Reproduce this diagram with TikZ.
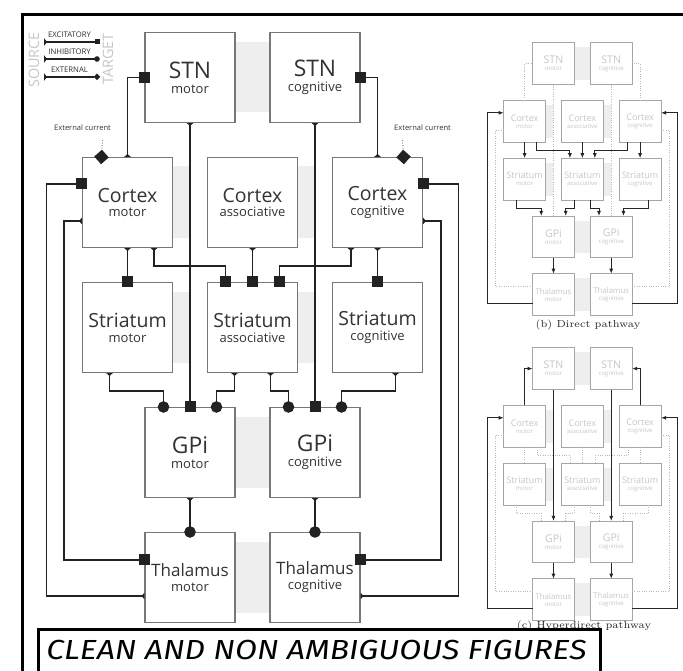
\documentclass[tikz,border=0pt]{standalone}
\usepackage{fontspec}
\setmainfont{Open Sans}
\newfontfamily\capfont{Latin Modern Roman}
\newfontfamily\comicfont{Fira Sans}
\usepackage{graphicx}
\usepackage{tikz}
\usetikzlibrary{arrows.meta,backgrounds,calc,positioning}

\definecolor{ink}{HTML}{222222}
\definecolor{edgegray}{HTML}{777777}
\definecolor{labelgray}{HTML}{333333}
\definecolor{bandgray}{HTML}{EEEEEE}

% two-line label of a box: name and part
\newcommand{\boxlabel}[3]{{\fontsize{#1}{#1}\selectfont #2}\\{\fontsize{7.4}{8}\selectfont #3}}

% the twelve boxes, with the grey bands between them
\newcommand{\gangliaboxes}[1]{%
  \fill[band] (235,42.5) rectangle (270,112.5);
  \fill[band] (172.5,166.5) rectangle (190,238);
  \fill[band] (297.5,166.5) rectangle (315,238);
  \fill[band] (172.5,292) rectangle (190,363.5);
  \fill[band] (297.5,292) rectangle (315,363.5);
  \fill[band] (235,417.5) rectangle (270,488);
  \fill[band] (235,542.5) rectangle (270,613);
  \node[box] (#1-stnm) at (190,77.5)    {\boxlabel{13}{STN}{motor}};
  \node[box] (#1-stnc) at (315,77.5)    {\boxlabel{13}{STN}{cognitive}};
  \node[box] (#1-ctxm) at (127.5,202.5) {\boxlabel{11.1}{Cortex}{motor}};
  \node[box] (#1-ctxa) at (252.5,202.5) {\boxlabel{11.1}{Cortex}{associative}};
  \node[box] (#1-ctxc) at (377.5,202.5) {\boxlabel{11.1}{Cortex}{cognitive}};
  \node[box] (#1-strm) at (127.5,327.5) {\boxlabel{11.1}{Striatum}{motor}};
  \node[box] (#1-stra) at (252.5,327.5) {\boxlabel{11.1}{Striatum}{associative}};
  \node[box] (#1-strc) at (377.5,327.5) {\boxlabel{11.1}{Striatum}{cognitive}};
  \node[box] (#1-gpim) at (190,452.5)   {\boxlabel{13}{GPi}{motor}};
  \node[box] (#1-gpic) at (315,452.5)   {\boxlabel{13}{GPi}{cognitive}};
  \node[box] (#1-thm)  at (190,577.5)   {\boxlabel{9.7}{Thalamus}{motor}};
  \node[box] (#1-thc)  at (315,577.5)   {\boxlabel{9.7}{Thalamus}{cognitive}};
}

% #2 cortex-stn, #3 stn-gpi, #4 cortex-striatum, #5 striatum-gpi,
% #6 gpi-thalamus, #7 thalamus-cortex, #8 cortex-thalamus
\newcommand{\ganglialinks}[8]{%
  \draw[#2] (#1-ctxm.north) |- (#1-stnm.west);
  \draw[#2] (#1-ctxc.north) |- (#1-stnc.east);
  \draw[#3] (#1-stnm.south) -- (#1-gpim.north);
  \draw[#3] (#1-stnc.south) -- (#1-gpic.north);
  \draw[#4] (#1-ctxm.south) -- (#1-strm.north);
  \draw[#4] ($(#1-ctxm.south)+(26.5,0)$) -- ++(0,18) -| ($(#1-stra.north)+(-27,0)$);
  \draw[#4] (#1-ctxa.south) -- (#1-stra.north);
  \draw[#4] ($(#1-ctxc.south)+(-26.5,0)$) -- ++(0,18) -| ($(#1-stra.north)+(27,0)$);
  \draw[#4] (#1-ctxc.south) -- (#1-strc.north);
  \draw[#5] ($(#1-strm.south)+(-18,0)$) -- ++(0,18) -| ($(#1-gpim.north)+(-26.5,0)$);
  \draw[#5] ($(#1-stra.south)+(-18,0)$) -- ++(0,18) -| ($(#1-gpim.north)+(26.5,0)$);
  \draw[#5] ($(#1-stra.south)+(18,0)$) -- ++(0,18) -| ($(#1-gpic.north)+(-26.5,0)$);
  \draw[#5] ($(#1-strc.south)+(18,0)$) -- ++(0,18) -| ($(#1-gpic.north)+(26.5,0)$);
  \draw[#6] (#1-gpim.south) -- (#1-thm.north);
  \draw[#6] (#1-gpic.south) -- (#1-thc.north);
  \draw[#7] ($(#1-thm.west)+(0,18.5)$) -- ++(-98,0) |- ($(#1-ctxm.west)+(0,-18.5)$);
  \draw[#7] ($(#1-thc.east)+(0,18.5)$) -- ++(98,0) |- ($(#1-ctxc.east)+(0,-18.5)$);
  \draw[#8] ($(#1-ctxm.west)+(0,18.5)$) -- ++(-18,0) |- ($(#1-thm.west)+(0,-17.5)$);
  \draw[#8] ($(#1-ctxc.east)+(0,18.5)$) -- ++(18,0) |- ($(#1-thc.east)+(0,-17.5)$);
}

\begin{document}
\begin{tikzpicture}[x=0.02cm, y=-0.02cm,
    box/.style={draw=edgegray, line width=0.6pt, fill=white, minimum size=1.8cm,
      inner sep=0pt, align=center, text=labelgray, font=\fontsize{7.4}{8.5}\selectfont},
    band/.style={fill=bandgray},
    link/.style={draw=ink, line width=0.85pt},
    exc/.style={link, {Triangle[reversed,length=0.06cm,width=0.13cm]}-{Square[length=0.22cm,width=0.22cm]}, shorten >=-0.11cm},
    inh/.style={link, {Triangle[reversed,length=0.06cm,width=0.13cm]}-{Circle[length=0.23cm]}, shorten >=-0.115cm},
    ext/.style={draw=black!55, line width=0.5pt, densely dotted, -{Turned Square[length=0.29cm,width=0.29cm,color=ink]}, shorten >=-0.145cm},
    lexc/.style={link, line width=0.6pt, {Triangle[reversed,length=0.06cm,width=0.15cm]}-{Square[length=0.1cm,width=0.1cm]}, shorten >=-0.05cm},
    linh/.style={link, line width=0.6pt, {Triangle[reversed,length=0.06cm,width=0.15cm]}-{Circle[length=0.11cm]}, shorten >=-0.055cm},
    lext/.style={link, line width=0.6pt, {Triangle[reversed,length=0.06cm,width=0.15cm]}-{Turned Square[length=0.13cm,width=0.13cm]}, shorten >=-0.065cm},
    on/.style={draw=black!85, line width=0.5pt, -{Latex[length=0.1cm,width=0.08cm]}},
    off/.style={draw=black!28, line width=0.35pt, densely dotted},
    legend/.style={font=\fontsize{4.4}{5}\selectfont, text=labelgray, inner sep=0pt},
    side/.style={rotate=90, font=\fontsize{8.2}{9}\selectfont, text=black!22, inner sep=0pt},
    caption/.style={font=\capfont\fontsize{5.8}{7}\selectfont, text=black!85, inner sep=0pt}]

  \path[use as bounding box, fill=white] (0,0) rectangle (683,671);
  \clip (0,0) rectangle (683,671);

  % panel frame
  \draw[line width=1.7pt] (22.5,700) |- (700,15);

  % main figure
  \gangliaboxes{fig}
  \ganglialinks{fig}{exc}{exc}{exc}{inh}{inh}{exc}{exc}

  % external currents
  \node[legend, font=\fontsize{4.3}{5}\selectfont] (curm) at (82.5,128) {External current};
  \node[legend, font=\fontsize{4.3}{5}\selectfont] (curc) at (422.5,128) {External current};
  \coordinate (curmin) at (102.5,140);
  \coordinate (curcin) at (402.5,140);
  \draw[ext] (curmin) -- ($(fig-ctxm.north west)+(19.5,0)$);
  \draw[ext] (curcin) -- ($(fig-ctxc.north east)+(-19.5,0)$);

  % legend
  \node[side] (source) at (34,60) {SOURCE};
  \node[side] (target) at (108,59) {TARGET};
  \coordinate (excfrom) at (44,42);  \coordinate (excto) at (97,42);
  \coordinate (inhfrom) at (44,59);  \coordinate (inhto) at (97,59);
  \coordinate (extfrom) at (44,77);  \coordinate (extto) at (97,77);
  \draw[lexc] (excfrom) -- (excto);
  \draw[linh] (inhfrom) -- (inhto);
  \draw[lext] (extfrom) -- (extto);
  \node[legend] (exclbl) at (69.5,34.5) {EXCITATORY};
  \node[legend] (inhlbl) at (69.5,52) {INHIBITORY};
  \node[legend] (extlbl) at (69.5,70) {EXTERNAL};

  % (b) direct pathway
  \begin{scope}[shift={(465.7,27.8)}, scale=0.462, transform shape,
      box/.append style={draw=black!35, text=black!22, line width=0.4pt}]
    \gangliaboxes{dir}
    \ganglialinks{dir}{off}{off}{on}{on}{on}{on}{off}
  \end{scope}
  \node[caption] (dircap) at (588,325) {(b) Direct pathway};

  % (c) hyperdirect pathway
  \begin{scope}[shift={(465.7,332.8)}, scale=0.462, transform shape,
      box/.append style={draw=black!35, text=black!22, line width=0.4pt}]
    \gangliaboxes{hyp}
    \ganglialinks{hyp}{on}{on}{off}{off}{on}{on}{off}
  \end{scope}
  \node[caption] (hypcap) at (584,626) {(c) Hyperdirect pathway};

  % comic caption
  \draw[line width=1.7pt, fill=white] (38.5,629.5) rectangle (600,720);
  \node[anchor=base west, inner sep=0pt, font=\comicfont\itshape\fontsize{15.7}{16}\selectfont] (slogan) at (46,660)
    {\scalebox{1.16}[1]{CLEAN AND NON AMBIGUOUS FIGURES}};
\end{tikzpicture}
\end{document}
